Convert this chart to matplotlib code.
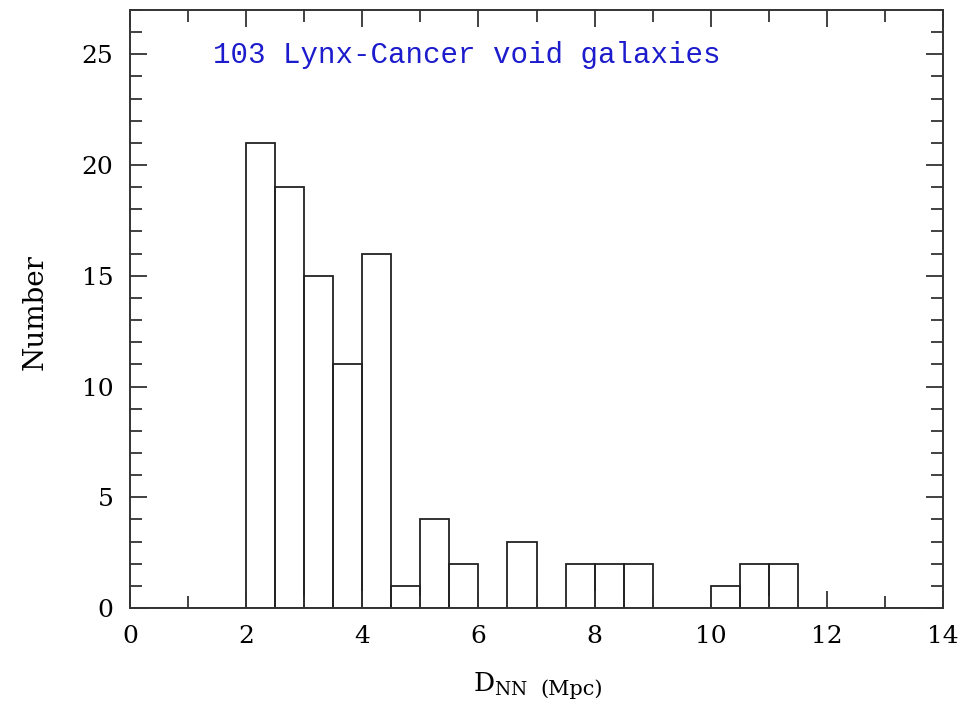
import numpy as np
import matplotlib.pyplot as plt
from matplotlib.ticker import MultipleLocator

# nearest-neighbour distance histogram, 0.5 Mpc bins
bin_edges = np.arange(0, 14.01, 0.5)
counts = [0, 0, 0, 0, 21, 19, 15, 11, 16, 1, 4, 2, 0, 3, 0, 2, 2, 2,
          0, 0, 1, 2, 2, 0, 0, 0, 0, 0]

plt.rcParams["mathtext.fontset"] = "dejavuserif"

fig = plt.figure(figsize=(9.72, 7.07), dpi=100)
ax = fig.add_axes([130 / 972, 1 - 608 / 707, 813 / 972, 598 / 707])

centers = bin_edges[:-1] + 0.25
ax.bar(centers, counts, width=0.5, fill=False, edgecolor="#222222", linewidth=1.3)
ax.plot([1, 14], [0, 0], color="#222222", linewidth=1.8)

ax.set_xlim(0, 14)
ax.set_ylim(0, 27)
ax.xaxis.set_major_locator(MultipleLocator(2))
ax.xaxis.set_minor_locator(MultipleLocator(1))
ax.yaxis.set_major_locator(MultipleLocator(5))
ax.yaxis.set_minor_locator(MultipleLocator(1))
ax.tick_params(which="both", direction="in", top=True, right=True, color="#333333")
ax.tick_params(which="major", length=12.5, width=1.3, labelsize=18, pad=12)
ax.tick_params(which="minor", length=8.5, width=1.3)
for lbl in ax.get_xticklabels() + ax.get_yticklabels():
    lbl.set_family("DejaVu Serif")
for s in ax.spines.values():
    s.set_linewidth(1.4)
    s.set_color("#333333")

fig.text(35 / 972, 1 - 312 / 707, "Number", fontsize=20, family="DejaVu Serif",
         rotation=90, ha="center", va="center")

# x label: D with NN subscript, then a smaller unit
fig.text(473 / 972, 1 - 692 / 707, r"D$_{\rm NN}$", fontsize=19,
         family="DejaVu Serif", ha="left", va="baseline")
fig.text(540 / 972, 1 - 695 / 707, "(Mpc)", fontsize=15, family="DejaVu Serif",
         ha="left", va="baseline")

ax.text(1.43, 24.97, "103 Lynx-Cancer void galaxies", color="#1c1ccc",
        fontsize=21, family="Liberation Mono", va="center")

fig.savefig("out.png", dpi=100)
